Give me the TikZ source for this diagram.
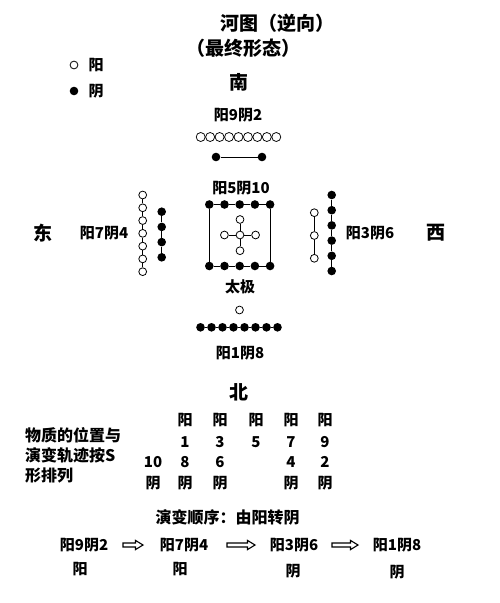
\documentclass[tikz,border=0pt]{standalone}
\usepackage{fontspec}
\setmainfont{Noto Sans CJK SC}
\tikzset{
  od/.style={circle,draw=black,fill=white,line width=0.8pt,inner sep=0pt,minimum size=7.8pt},
  odrow/.style={od,minimum size=9pt,line width=0.75pt},
  fd/.style={circle,fill=black,inner sep=0pt,minimum size=8.6pt},
  conn/.style={line width=0.9pt},
  lbl/.style={font=\fontsize{15}{15}\selectfont\bfseries,inner sep=0pt},
  big/.style={font=\fontsize{19}{19}\selectfont\bfseries,inner sep=0pt},
  ttl/.style={font=\fontsize{19}{19}\selectfont\bfseries,inner sep=0pt},
  txt/.style={font=\fontsize{16}{16}\selectfont\bfseries,inner sep=0pt},
  tbl/.style={font=\fontsize{15}{15}\selectfont\bfseries,inner sep=0pt},
  pics/harr/.style={code={
    \draw[line width=1.1pt,line join=miter,fill=white]
      (-#1/2,-2) -- (#1/2-7.5,-2) -- (#1/2-7.5,-4.6) -- (#1/2,0) --
      (#1/2-7.5,4.6) -- (#1/2-7.5,2) -- (-#1/2,2) -- cycle;}}
}
\begin{document}
\begin{tikzpicture}[x=1pt,y=-1pt]
\useasboundingbox[fill=white] (0,0) rectangle (500,603);
% titles
\node[ttl] (title) at (277,23) {河图（逆向）};
\node[ttl] (subtitle) at (243,48) {（最终形态）};
% legend
\node[od] (lgo) at (74,65) {};
\node[tbl] (lgot) at (96,65) {阳};
\node[fd] (lgf) at (74,91) {};
\node[tbl] (lgft) at (96,91) {阴};
% directions
\node[big] (south) at (239,82) {南};
\node[big] (east) at (43,233) {东};
\node[big] (west) at (436,233) {西};
\node[big] (north) at (239,392) {北};
% south
\node[lbl] (l92) at (238,115) {阳9阴2};
\foreach \i in {0,...,8} \node[odrow] (s\i) at (200.7+9.45*\i,137) {};
\node[fd] (sa) at (216,157) {};
\node[fd] (sb) at (262,157) {};
\draw[conn] (sa) -- (sb);
% centre
\node[lbl] (l510) at (241,188) {阳5阴10};
\foreach \i in {0,...,4} {
  \node[fd] (t\i) at (209.3+15.2*\i,204.5) {};
  \node[fd] (b\i) at (209.3+15.2*\i,266) {};
}
\foreach \i [count=\j] in {0,...,3} {
  \draw[conn] (t\i) -- (t\j);
  \draw[conn] (b\i) -- (b\j);
}
\draw[conn] (t0) -- (b0);
\draw[conn] (t4) -- (b4);
\node[od] (cc) at (240,235) {};
\node[od] (cn) at (240,219.5) {};
\node[od] (cs) at (240,250.7) {};
\node[od] (cw) at (224.4,235) {};
\node[od] (ce) at (255.6,235) {};
\draw[conn] (cc) -- (cn);
\draw[conn] (cc) -- (cs);
\draw[conn] (cc) -- (cw);
\draw[conn] (cc) -- (ce);
\node[lbl] (taiji) at (240,287) {太极};
% north
\node[od] (nO) at (239.5,310) {};
\foreach \i in {0,...,7} \node[fd] (n\i) at (200.5+11*\i,327.3) {};
\foreach \i [count=\j] in {0,...,6} \draw[conn] (n\i) -- (n\j);
\node[lbl] (l18) at (240,353) {阳1阴8};
% east
\node[lbl] (l74) at (104,233) {阳7阴4};
\foreach \i in {0,...,6} \node[od] (eo\i) at (142.7,195+12.78*\i) {};
\foreach \i [count=\j] in {0,...,5} \draw[conn] (eo\i) -- (eo\j);
\foreach \i in {0,...,3} \node[fd] (ef\i) at (161.7,211.7+15.2*\i) {};
\foreach \i [count=\j] in {0,...,2} \draw[conn] (ef\i) -- (ef\j);
% west
\node[lbl] (l36) at (370,233) {阳3阴6};
\foreach \i in {0,...,2} \node[od] (wo\i) at (314.3,212.7+22.8*\i) {};
\foreach \i [count=\j] in {0,...,1} \draw[conn] (wo\i) -- (wo\j);
\foreach \i in {0,...,5} \node[fd] (wf\i) at (331.7,195+15.2*\i) {};
\foreach \i [count=\j] in {0,...,4} \draw[conn] (wf\i) -- (wf\j);
% table
\node[txt,anchor=west] (d1) at (25,435) {物质的位置与};
\node[txt,anchor=west] (d2) at (25,455) {演变轨迹按S};
\node[txt,anchor=west] (d3) at (25,475) {形排列};
\foreach \x [count=\k] in {185,220,256,291,325} \node[tbl] (ty\k) at (\x,420) {阳};
\node[tbl] (r11) at (185,441.7) {1};
\node[tbl] (r13) at (220,441.7) {3};
\node[tbl] (r15) at (256,441.7) {5};
\node[tbl] (r17) at (291,441.7) {7};
\node[tbl] (r19) at (325,441.7) {9};
\node[tbl] (r210) at (153,461.7) {10};
\node[tbl] (r28) at (185,461.7) {8};
\node[tbl] (r26) at (220,461.7) {6};
\node[tbl] (r24) at (291,461.7) {4};
\node[tbl] (r22) at (325,461.7) {2};
\foreach \x [count=\k] in {153,185,220,291,325} \node[tbl] (tn\k) at (\x,482.7) {阴};
% sequence
\node[txt] (seq) at (227.5,517) {演变顺序：由阳转阴};
\node[lbl] (q1) at (84,545) {阳9阴2};
\node[lbl] (q2) at (184,545) {阳7阴4};
\node[lbl] (q3) at (294,545) {阳3阴6};
\node[lbl] (q4) at (397,545) {阳1阴8};
\node[tbl] (p1) at (80,569) {阳};
\node[tbl] (p2) at (180,569) {阳};
\node[tbl] (p3) at (293,571) {阴};
\node[tbl] (p4) at (397,572) {阴};
\pic at (133,545) {harr=20};
\pic at (241,545) {harr=28};
\pic at (345,545) {harr=26};
\end{tikzpicture}
\end{document}
